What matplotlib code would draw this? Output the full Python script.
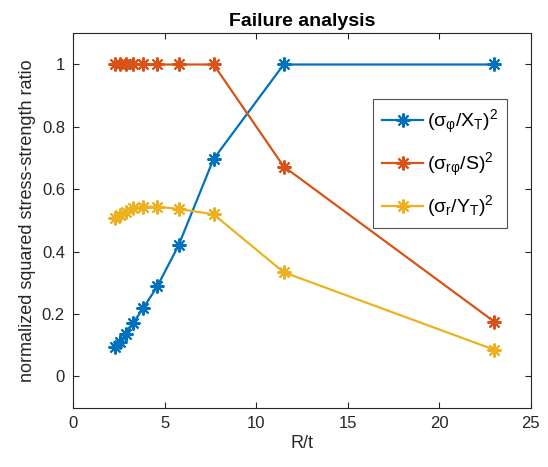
import matplotlib
matplotlib.use("Agg")
import matplotlib.pyplot as plt

plt.rcParams['font.family'] = ['Liberation Sans', 'DejaVu Sans']
plt.rcParams['mathtext.fontset'] = 'custom'
plt.rcParams['mathtext.rm'] = 'Liberation Sans'
plt.rcParams['mathtext.it'] = 'Liberation Sans:italic'
plt.rcParams['mathtext.bf'] = 'Liberation Sans:bold'

# Data
r_over_t = [2.3, 2.556, 2.875, 3.286, 3.833, 4.6, 5.75, 7.667, 11.5, 23.0]
fiber = [0.096, 0.112, 0.137, 0.173, 0.220, 0.290, 0.420, 0.697, 1.0, 1.0]
shear = [1.0, 1.0, 1.0, 1.0, 1.0, 1.0, 1.0, 1.0, 0.673, 0.176]
transverse = [0.508, 0.518, 0.528, 0.539, 0.544, 0.544, 0.537, 0.520, 0.334, 0.086]
labels = [r'$\mathregular{(\sigma_{\varphi}/X_T)^2}$',
          r'$\mathregular{(\sigma_{r\varphi}/S)^2}$',
          r'$\mathregular{(\sigma_r/Y_T)^2}$']
colors = ['#0072BD', '#D95319', '#EDB120']
xticks = [0, 5, 10, 15, 20, 25]
yticks = [0, 0.2, 0.4, 0.6, 0.8, 1]

fig = plt.figure(figsize=(5.48, 4.67), dpi=100)
ax = fig.add_axes([0.1338, 0.127, 0.8346, 0.8017])

for ys, c, lab in zip([fiber, shear, transverse], colors, labels):
    ax.plot(r_over_t, ys, '-', marker=(8, 2, 0), color=c, lw=1.6, ms=10,
            mew=1.5, label=lab)

ax.set_xlim(0, 25)
ax.set_ylim(-0.1, 1.1)
ax.set_xticks(xticks)
ax.set_yticks(yticks)
ax.set_yticklabels(['0', '0.2', '0.4', '0.6', '0.8', '1'])
ax.tick_params(direction='in', top=True, right=True, labelsize=12,
               colors='#262626', length=4, width=0.8, pad=6)
for s in ax.spines.values():
    s.set_color('#262626')
    s.set_linewidth(0.8)

ax.set_title('Failure analysis', fontsize=14, fontweight='bold', pad=5)
ax.set_xlabel('R/t', fontsize=13, color='#262626', labelpad=3)
ax.set_ylabel('normalized squared stress-strength ratio', fontsize=13,
              color='#262626', labelpad=4)

leg = ax.legend(loc='upper right', bbox_to_anchor=(0.9475, 0.8237), fontsize=14,
                frameon=True, fancybox=False, edgecolor='#262626',
                handlelength=2.1, borderaxespad=0, labelspacing=0.75,
                handletextpad=0.2, borderpad=0.45)
leg.get_frame().set_linewidth(0.8)

fig.savefig('out.png', dpi=100)
